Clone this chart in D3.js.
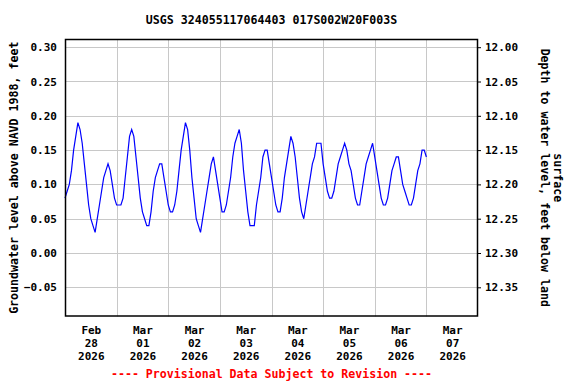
<!DOCTYPE html>
<html>
<head>
<meta charset="utf-8">
<script src="https://cdn.jsdelivr.net/npm/d3@7"></script>
<style>
  body { margin: 0; background: #fff; }
  svg text { font-family: "DejaVu Sans Mono", monospace; font-weight: bold; }
</style>
</head>
<body>
<div id="chart"></div>
<script>
// hourly groundwater level, ft above NAVD 1988, starting 2026-02-28 00:00
var startTime = new Date(2026, 1, 28, 0, 0);
var levels = [
  0.08, 0.09, 0.10, 0.12, 0.15, 0.17, 0.19, 0.18, 0.16, 0.13, 0.10, 0.07, 0.05, 0.04, 0.03,
  0.05, 0.07, 0.09, 0.11, 0.12, 0.13, 0.12, 0.10, 0.08, 0.07, 0.07, 0.07,
  0.08, 0.11, 0.14, 0.17, 0.18, 0.17, 0.14, 0.11, 0.08, 0.06, 0.05, 0.04, 0.04,
  0.06, 0.09, 0.11, 0.12, 0.13, 0.13, 0.11, 0.09, 0.07, 0.06, 0.06, 0.07,
  0.09, 0.12, 0.15, 0.17, 0.19, 0.18, 0.15, 0.11, 0.08, 0.05, 0.04, 0.03,
  0.05, 0.07, 0.09, 0.11, 0.13, 0.14, 0.12, 0.10, 0.08, 0.06, 0.06, 0.07,
  0.09, 0.11, 0.14, 0.16, 0.17, 0.18, 0.16, 0.12, 0.09, 0.06, 0.04, 0.04, 0.04,
  0.07, 0.09, 0.11, 0.14, 0.15, 0.15, 0.13, 0.11, 0.09, 0.07, 0.06, 0.06,
  0.08, 0.11, 0.13, 0.15, 0.17, 0.16, 0.14, 0.11, 0.08, 0.06, 0.05,
  0.07, 0.09, 0.11, 0.13, 0.14, 0.16, 0.16, 0.16, 0.13, 0.11, 0.09, 0.08, 0.08,
  0.09, 0.11, 0.13, 0.14, 0.15, 0.16, 0.15, 0.13, 0.12, 0.10, 0.08, 0.07, 0.07,
  0.09, 0.11, 0.13, 0.14, 0.15, 0.16, 0.14, 0.12, 0.10, 0.08, 0.07, 0.07,
  0.08, 0.10, 0.12, 0.13, 0.14, 0.14, 0.12, 0.10, 0.09, 0.08, 0.07, 0.07,
  0.08, 0.10, 0.12, 0.13, 0.15, 0.15, 0.14
];
var leftTicks = [-0.05, 0.00, 0.05, 0.10, 0.15, 0.20, 0.25, 0.30];
var rightTicks = [12.00, 12.05, 12.10, 12.15, 12.20, 12.25, 12.30, 12.35];
var landSurface = 12.30; // depth = landSurface - level
var dayLabels = [
  ["Feb", "28", "2026"], ["Mar", "01", "2026"], ["Mar", "02", "2026"], ["Mar", "03", "2026"],
  ["Mar", "04", "2026"], ["Mar", "05", "2026"], ["Mar", "06", "2026"], ["Mar", "07", "2026"]
];

var data = levels.map(function(v, i) {
  return {t: d3.timeHour.offset(startTime, i), v: v};
});

var W = 576, H = 384;
var plot = {left: 65, right: 478, top: 39, bottom: 316.5};

var svg = d3.select("#chart").append("svg")
    .attr("width", W)
    .attr("height", H);

var x = d3.scaleTime()
    .domain([startTime, d3.timeDay.offset(startTime, 8)])
    .range([plot.left, plot.right]);

var y = d3.scaleLinear()
    .domain([-0.05, 0.30])
    .range([287.3, 47.2]);

var yR = d3.scaleLinear()
    .domain([landSurface - (-0.05), landSurface - 0.30])
    .range([287.3, 47.2]);

// grid lines
var days = d3.range(1, 8).map(function(d) { return d3.timeDay.offset(startTime, d); });
svg.append("g").selectAll("line.vg")
    .data(days).enter().append("line")
    .attr("x1", function(d) { return Math.round(x(d)) + 0.5; })
    .attr("x2", function(d) { return Math.round(x(d)) + 0.5; })
    .attr("y1", plot.top).attr("y2", plot.bottom)
    .attr("stroke", "#c8c8c8").attr("stroke-width", 1);

svg.append("g").selectAll("line.hg")
    .data(leftTicks).enter().append("line")
    .attr("x1", plot.left).attr("x2", plot.right)
    .attr("y1", function(d) { return Math.round(y(d)) + 0.5; })
    .attr("y2", function(d) { return Math.round(y(d)) + 0.5; })
    .attr("stroke", "#c8c8c8").attr("stroke-width", 1);

// data line
var line = d3.line()
    .x(function(d) { return x(d.t); })
    .y(function(d) { return y(d.v); });

svg.append("path")
    .datum(data)
    .attr("d", line)
    .attr("fill", "none")
    .attr("stroke", "#0000ff")
    .attr("stroke-width", 1.2);

// frame
svg.append("rect")
    .attr("x", plot.left + 0.5).attr("y", plot.top + 0.5)
    .attr("width", plot.right - plot.left - 1)
    .attr("height", plot.bottom - plot.top - 1)
    .attr("fill", "none")
    .attr("stroke", "#000").attr("stroke-width", 1.5);

// left axis
var leftAxis = d3.axisLeft(y)
    .tickValues(leftTicks)
    .tickSize(0)
    .tickPadding(8)
    .tickFormat(d3.format(".2f"));

var gL = svg.append("g")
    .attr("transform", "translate(" + plot.left + ",0)")
    .call(leftAxis);
gL.select(".domain").remove();
gL.selectAll("text").attr("font-size", "11px").attr("fill", "#000");

// right axis
var rightAxis = d3.axisRight(yR)
    .tickValues(rightTicks)
    .tickSize(3)
    .tickPadding(4)
    .tickFormat(d3.format(".2f"));

var gR = svg.append("g")
    .attr("transform", "translate(" + plot.right + ",0)")
    .call(rightAxis);
gR.select(".domain").remove();
gR.selectAll("line").attr("stroke", "#000");
gR.selectAll("text").attr("font-size", "11px").attr("fill", "#000");

// x axis labels at noon
var noons = d3.range(0, 8).map(function(d) {
  return d3.timeHour.offset(d3.timeDay.offset(startTime, d), 12);
});
var bottomAxis = d3.axisBottom(x)
    .tickValues(noons)
    .tickSize(0)
    .tickFormat("");

var gB = svg.append("g")
    .attr("transform", "translate(0," + plot.bottom + ")")
    .call(bottomAxis);
gB.select(".domain").remove();
gB.selectAll(".tick").each(function(d, i) {
  var t = d3.select(this).append("text")
      .attr("text-anchor", "middle")
      .attr("font-size", "11px")
      .attr("fill", "#000");
  dayLabels[i].forEach(function(s, j) {
    t.append("tspan").attr("x", 0).attr("y", 17.5 + j * 13).text(s);
  });
});

// title
svg.append("text")
    .attr("x", (plot.left + plot.right) / 2)
    .attr("y", 24)
    .attr("text-anchor", "middle")
    .attr("font-size", "11.6px")
    .text("USGS 324055117064403 017S002W20F003S");

// axis titles
svg.append("text")
    .attr("transform", "translate(14," + (plot.top + plot.bottom) / 2 + ") rotate(-90)")
    .attr("text-anchor", "middle")
    .attr("dominant-baseline", "central")
    .attr("font-size", "11.6px")
    .text("Groundwater level above NAVD 1988, feet");

svg.append("text")
    .attr("transform", "translate(545," + (plot.top + plot.bottom) / 2 + ") rotate(90)")
    .attr("text-anchor", "middle")
    .attr("dominant-baseline", "central")
    .attr("font-size", "11.6px")
    .text("Depth to water level, feet below land");

svg.append("text")
    .attr("transform", "translate(558," + (plot.top + plot.bottom) / 2 + ") rotate(90)")
    .attr("text-anchor", "middle")
    .attr("dominant-baseline", "central")
    .attr("font-size", "11.6px")
    .text("surface");

// footer
svg.append("text")
    .attr("x", (plot.left + plot.right) / 2)
    .attr("y", 378)
    .attr("text-anchor", "middle")
    .attr("font-size", "11.6px")
    .attr("fill", "#ff0000")
    .text("---- Provisional Data Subject to Revision ----");
</script>
</body>
</html>
